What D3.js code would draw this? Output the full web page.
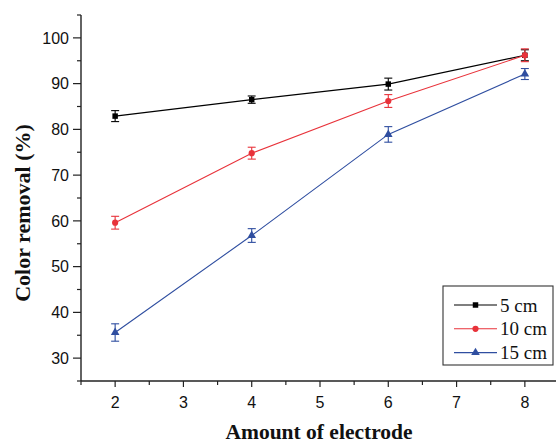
<!DOCTYPE html>
<html><head><meta charset="utf-8">
<script src="https://cdn.jsdelivr.net/npm/d3@7"></script>
<style>body{margin:0;background:#fff;}svg{display:block;}</style>
</head><body>
<svg id="c" width="556" height="445"></svg>
<script>
const xs = [2, 4, 6, 8];
const series5 = [82.9, 86.5, 89.9, 96.2];
const err5 = [1.2, 0.8, 1.3, 1.2];
const series10 = [59.6, 74.8, 86.2, 96.2];
const err10 = [1.4, 1.3, 1.4, 1.4];
const series15 = [35.6, 56.8, 78.9, 92.1];
const err15 = [1.9, 1.5, 1.7, 1.2];
const names = ["5 cm", "10 cm", "15 cm"];
const xTicks = [2, 3, 4, 5, 6, 7, 8];
const yTicks = [30, 40, 50, 60, 70, 80, 90, 100];

const colors = ["#000000", "#e8323a", "#2f4ea0"];
const shapes = [d3.symbolSquare, d3.symbolCircle, d3.symbolTriangle];
const sizes = [30, 30, 32];

const svg = d3.select("#c");
const x = d3.scaleLinear().domain([1.5, 8.5]).range([81, 559]);
const y = d3.scaleLinear().domain([25, 105]).range([381, 15]);

const axisColor = "#222";
// y axis
const gy = svg.append("g").attr("transform", "translate(81,0)");
gy.append("line").attr("x1",0).attr("x2",0).attr("y1",y(105)).attr("y2",y(25)).attr("stroke",axisColor).attr("stroke-width",1.4);
d3.range(25, 106, 5).forEach(v => {
  const major = v % 10 === 0;
  gy.append("line").attr("x1", major ? -8 : -4).attr("x2", 0).attr("y1", y(v)).attr("y2", y(v)).attr("stroke", axisColor).attr("stroke-width", 1.2);
});
yTicks.forEach(v => {
  gy.append("text").attr("x", -12).attr("y", y(v)).attr("dy", "0.36em").attr("text-anchor","end")
    .attr("font-family","Liberation Sans, Arial, sans-serif").attr("font-size", 16).attr("fill","#111").text(v);
});
// x axis
const gx = svg.append("g").attr("transform", "translate(0,381)");
gx.append("line").attr("x1", x(1.5)).attr("x2", x(8.5)).attr("y1",0).attr("y2",0).attr("stroke",axisColor).attr("stroke-width",1.4);
d3.range(1.5, 8.51, 0.5).forEach(v => {
  const major = Math.abs(v - Math.round(v)) < 1e-6;
  gx.append("line").attr("x1", x(v)).attr("x2", x(v)).attr("y1", 0).attr("y2", major ? 6 : 4).attr("stroke", axisColor).attr("stroke-width", 1.2);
});
xTicks.forEach(v => {
  gx.append("text").attr("x", x(v)).attr("y", 26.5).attr("text-anchor","middle")
    .attr("font-family","Liberation Sans, Arial, sans-serif").attr("font-size", 16).attr("fill","#111").text(v);
});
// titles
svg.append("text").attr("x", 319).attr("y", 439).attr("text-anchor","middle")
  .attr("font-family","Liberation Serif, Times New Roman, serif").attr("font-weight","bold").attr("font-size", 21.5).attr("fill","#111")
  .text("Amount of electrode");
svg.append("text").attr("transform","translate(30,213) rotate(-90)").attr("text-anchor","middle")
  .attr("font-family","Liberation Serif, Times New Roman, serif").attr("font-weight","bold").attr("font-size", 22).attr("fill","#111")
  .text("Color removal (%)");

const allSeries = [series5, series10, series15];
const allErr = [err5, err10, err15];
const line = d3.line().x(d => x(d[0])).y(d => y(d[1]));
allSeries.forEach((s, i) => {
  const pts = xs.map((xv, j) => [xv, s[j], allErr[i][j]]);
  const g = svg.append("g");
  g.append("path").attr("d", line(pts)).attr("fill","none").attr("stroke", colors[i]).attr("stroke-width", 1.1);
  pts.forEach(p => {
    const cx = x(p[0]), y1 = y(p[1] + p[2]), y2 = y(p[1] - p[2]);
    g.append("line").attr("x1",cx).attr("x2",cx).attr("y1",y1).attr("y2",y2).attr("stroke",colors[i]).attr("stroke-width",1.1);
    [y1, y2].forEach(yy => g.append("line").attr("x1",cx-4).attr("x2",cx+4).attr("y1",yy).attr("y2",yy).attr("stroke",colors[i]).attr("stroke-width",1.1));
    g.append("path").attr("d", d3.symbol().type(shapes[i]).size(sizes[i])()).attr("transform", `translate(${cx},${y(p[1])})`).attr("fill", colors[i]);
  });
});

// legend
const lg = svg.append("g");
lg.append("rect").attr("x", 443).attr("y", 286).attr("width", 110).attr("height", 79).attr("fill","#fff").attr("stroke","#333").attr("stroke-width",1.1);
names.forEach((n, i) => {
  const yy = 305 + i * 23.8;
  lg.append("line").attr("x1", 454).attr("x2", 497).attr("y1", yy).attr("y2", yy).attr("stroke", colors[i]).attr("stroke-width", 1.1);
  lg.append("path").attr("d", d3.symbol().type(shapes[i]).size(sizes[i])()).attr("transform", `translate(475.5,${yy})`).attr("fill", colors[i]);
  lg.append("text").attr("x", 500).attr("y", yy).attr("dy","0.35em").attr("font-family","Liberation Serif, Times New Roman, serif")
    .attr("font-size", 19).attr("fill","#111").text(n);
});
</script>
</body></html>
